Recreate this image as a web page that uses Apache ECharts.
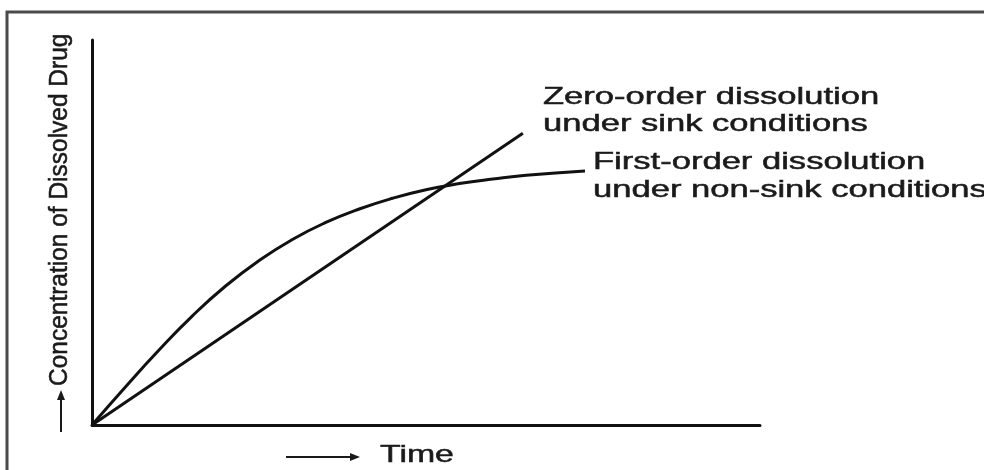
<!DOCTYPE html>
<html>
<head>
<meta charset="utf-8">
<script src="https://cdn.jsdelivr.net/npm/echarts@6/dist/echarts.min.js"></script>
<style>html,body{margin:0;padding:0;background:#fff;}#c{width:984px;height:470px;}</style>
</head>
<body>
<div id="c"></div>
<script>
// Estimated data (arbitrary units)
var zeroOrderX = [0, 6.45];
var zeroOrderY = [0, 7.58];
var firstOrderX = [0, 0.5, 1.0, 1.5, 2.0, 2.5, 3.0, 3.5, 4.0, 4.5, 5.0, 5.5, 6.0, 6.5, 7.38];
var firstOrderY = [0, 0.99, 1.94, 2.83, 3.61, 4.27, 4.82, 5.26, 5.61, 5.89, 6.11, 6.27, 6.39, 6.49, 6.60];
var zeroLabel = ['Zero-order dissolution', 'under sink conditions'];
var firstLabel = ['First-order dissolution', 'under non-sink conditions'];
var xName = 'Time';
var yName = 'Concentration of Dissolved Drug';

function pairs(xs, ys) { return xs.map(function (x, i) { return [x, ys[i]]; }); }

var FONT = '24px "Liberation Sans", Arial, sans-serif';
var INK = '#1a1a1a';
function txt(text, x, y, sx, sy, rot) {
  return {
    type: 'text', x: x, y: y, scaleX: sx, scaleY: sy || 1, rotation: rot || 0,
    style: { text: text, font: FONT, fill: INK, stroke: INK, lineWidth: 0.5,
             textAlign: 'left', textVerticalAlign: 'middle' }
  };
}

var chart = echarts.init(document.getElementById('c'), null, { renderer: 'canvas' });
chart.setOption({
  backgroundColor: '#fff',
  animation: false,
  grid: { left: 92, right: 224, top: 40, bottom: 45 },
  xAxis: {
    type: 'value', min: 0, max: 10,
    axisLine: { show: true, onZero: false, lineStyle: { color: '#111', width: 3 } },
    axisTick: { show: false }, axisLabel: { show: false }, splitLine: { show: false }
  },
  yAxis: {
    type: 'value', min: 0, max: 10,
    axisLine: { show: true, onZero: false, lineStyle: { color: '#111', width: 3 } },
    axisTick: { show: false }, axisLabel: { show: false }, splitLine: { show: false }
  },
  series: [
    { type: 'line', name: zeroLabel.join(' '), data: pairs(zeroOrderX, zeroOrderY), symbol: 'none',
      lineStyle: { color: '#111', width: 3 } },
    { type: 'line', name: firstLabel.join(' '), data: pairs(firstOrderX, firstOrderY), symbol: 'none',
      smooth: 0.5, lineStyle: { color: '#111', width: 3 } }
  ],
  graphic: [
    { type: 'rect', shape: { x: 7, y: 12, width: 1000, height: 500 },
      style: { fill: 'none', stroke: '#4a4a4a', lineWidth: 3 }, silent: true },
    txt(zeroLabel[0], 543, 97, 1.44),
    txt(zeroLabel[1], 543, 124, 1.44),
    txt(firstLabel[0], 593, 162, 1.44),
    txt(firstLabel[1], 593, 190, 1.44),
    txt(xName, 380, 455, 1.41),
    txt(yName, 60, 386, 1.02, 1.08, Math.PI / 2),
    // x arrow
    { type: 'line', shape: { x1: 286, y1: 457, x2: 352, y2: 457 }, style: { stroke: INK, lineWidth: 2 } },
    { type: 'polygon', shape: { points: [[360, 457], [350, 453], [350, 461]] }, style: { fill: INK } },
    // y arrow
    { type: 'line', shape: { x1: 61, y1: 432, x2: 61, y2: 398 }, style: { stroke: INK, lineWidth: 2 } },
    { type: 'polygon', shape: { points: [[61, 390], [57, 400], [65, 400]] }, style: { fill: INK } }
  ]
});
</script>
</body>
</html>
